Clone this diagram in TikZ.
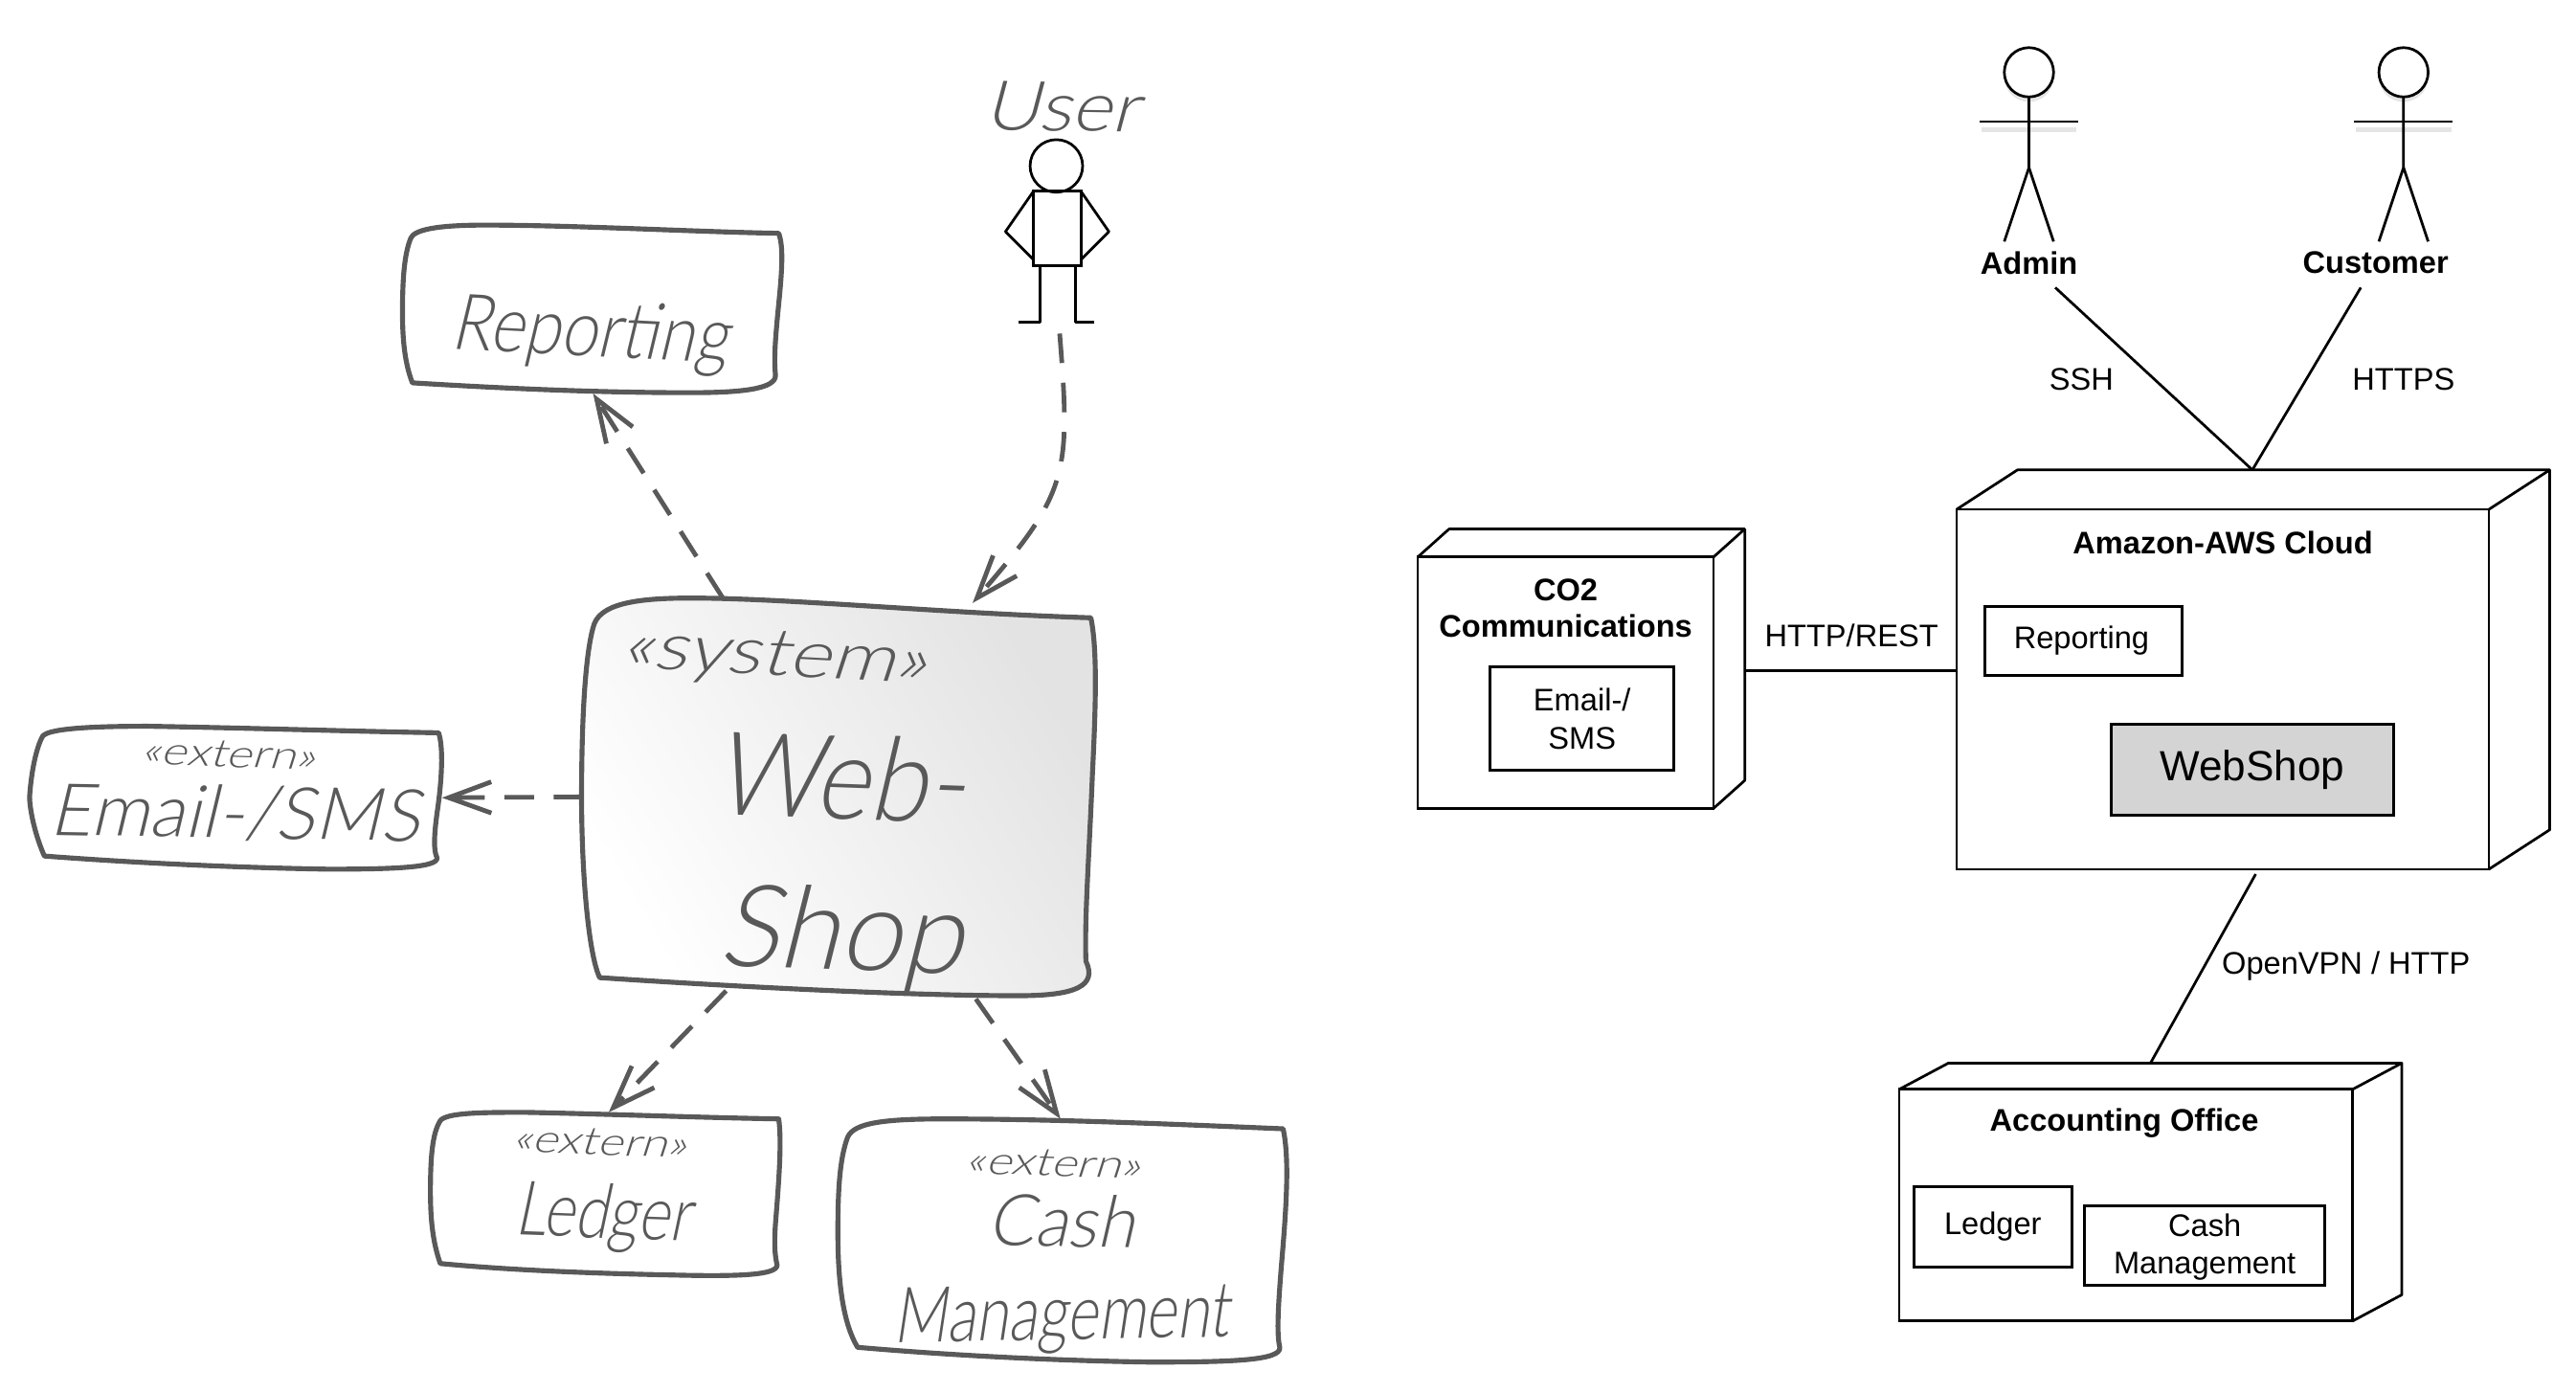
\documentclass[tikz,border=0pt]{standalone}
\usepackage{fontspec}
\usepackage{graphicx}
\usetikzlibrary{arrows.meta,calc}
\setmainfont{Liberation Sans}
\newfontfamily\hand[FakeSlant=0.22]{Lato Light}
\definecolor{sk}{HTML}{595959}
\newcommand{\hw}[3]{\resizebox*{#1pt}{#2pt}{\hand\textcolor{sk}{#3}}}
\tikzset{
  skbox/.style={draw=sk,line width=3pt,line join=round,fill=white},
  skline/.style={draw=sk,line width=2.8pt,dash pattern=on 18pt off 12pt,
    -{Straight Barb[length=26pt,width=19pt,line width=2.8pt]}},
  anchorbox/.style={inner sep=0pt,outer sep=0pt},
  stick/.style={draw=black,line width=1.6pt,line join=round},
  front/.style={draw=black,line width=1.6pt,fill=white,inner sep=0pt,outer sep=0pt},
  inner/.style={draw=black,line width=1.8pt,fill=white,inner sep=0pt,outer sep=0pt,align=center,font=\fontsize{19}{23}\selectfont},
  lbl/.style={font=\fontsize{19}{23}\selectfont,align=center,inner sep=0pt},
  ttl/.style={font=\bfseries\fontsize{19}{22}\selectfont,align=center,inner sep=0pt},
  conn/.style={draw=black,line width=1.6pt},
  shadowline/.style={draw=black!10,line width=3pt},
}
\begin{document}
\begin{tikzpicture}[x=1pt,y=-1pt]
\useasboundingbox (0,0) rectangle (1568,847.8);
% --- left: sketch boxes ---
\draw[skbox] (251,233) .. controls (246,220) and (245,205) .. (245,190) .. controls (245,170) and (246,155) .. (250,145) .. controls (252,140) and (265,137) .. (295,137) .. controls (350,137) and (420,141) .. (474,142) .. controls (477,150) and (476,165) .. (474,185) .. controls (472,205) and (471,218) .. (472,228) .. controls (473,237) and (450,239) .. (420,239) .. controls (360,239) and (300,236) .. (251,233) -- cycle;
\node[anchorbox,minimum width=231pt,minimum height=103pt] (reporting) at (360.5,188) {};
\shade[left color=white,right color=black!11,shading angle=120] (365,595) .. controls (358,580) and (354,530) .. (354,485) .. controls (354,440) and (356,400) .. (361,382) .. controls (364,368) and (385,364) .. (420,364) .. controls (480,364) and (570,373) .. (664,376) .. controls (668,395) and (667,430) .. (665,470) .. controls (663,520) and (660,560) .. (661,585) .. controls (668,600) and (655,606) .. (620,606) .. controls (550,606) and (440,600) .. (365,595) -- cycle;
\draw[draw=sk,line width=3pt,line join=round] (365,595) .. controls (358,580) and (354,530) .. (354,485) .. controls (354,440) and (356,400) .. (361,382) .. controls (364,368) and (385,364) .. (420,364) .. controls (480,364) and (570,373) .. (664,376) .. controls (668,395) and (667,430) .. (665,470) .. controls (663,520) and (660,560) .. (661,585) .. controls (668,600) and (655,606) .. (620,606) .. controls (550,606) and (440,600) .. (365,595) -- cycle;
\node[anchorbox,minimum width=312pt,minimum height=242pt] (web) at (510,485) {};
\draw[skbox] (27,521) .. controls (20,505) and (18,490) .. (18,485) .. controls (19,470) and (22,455) .. (26,448) .. controls (30,443) and (60,442) .. (90,442) .. controls (150,443) and (210,445) .. (267,446) .. controls (270,455) and (269,475) .. (266,495) .. controls (264,510) and (264,518) .. (266,522) .. controls (267,528) and (240,529) .. (200,529) .. controls (140,528) and (80,525) .. (27,521) -- cycle;
\node[anchorbox,minimum width=251pt,minimum height=87pt] (email) at (143.5,485.5) {};
\draw[skbox] (268,769) .. controls (263,755) and (262,740) .. (262,725) .. controls (262,705) and (263,690) .. (268,682) .. controls (272,677) and (295,677) .. (320,677) .. controls (370,678) and (420,680) .. (474,681) .. controls (476,695) and (474,720) .. (472,745) .. controls (471,760) and (472,765) .. (473,770) .. controls (473,776) and (450,777) .. (410,776) .. controls (360,775) and (310,773) .. (268,769) -- cycle;
\node[anchorbox,minimum width=214pt,minimum height=100pt] (ledger) at (368.5,727) {};
\draw[skbox] (522,820) .. controls (513,805) and (510,780) .. (510,750) .. controls (510,725) and (511,705) .. (516,692) .. controls (520,683) and (540,681) .. (575,681) .. controls (640,681) and (710,684) .. (781,687) .. controls (785,705) and (783,735) .. (780,770) .. controls (778,795) and (777,812) .. (779,820) .. controls (780,828) and (750,829) .. (700,829) .. controls (640,828) and (580,825) .. (522,820) -- cycle;
\node[anchorbox,minimum width=273pt,minimum height=148pt] (cash) at (646.5,755) {};
% --- left: texts ---
\node[anchorbox,rotate=-3] (treport) at (359,204) {\hw{168}{43}{Reporting}};
\node[anchorbox,rotate=-1] (tuser) at (646,65) {\hw{94}{30}{User}};
\node[anchorbox,rotate=-3] (tsys) at (471,401) {\hw{186}{34}{«system»}};
\node[anchorbox,rotate=-2] (tweb) at (511,473) {\hw{153}{52}{Web-}};
\node[anchorbox,rotate=-2] (tshop) at (512,571) {\hw{148}{63}{Shop}};
\node[anchorbox,rotate=-2] (textm) at (139,459) {\hw{106}{16}{«extern»}};
\node[anchorbox,rotate=-1] (temail) at (143,495) {\hw{225}{34}{Email-/SMS}};
\node[anchorbox,rotate=-2] (textl) at (365,695) {\hw{106}{16}{«extern»}};
\node[anchorbox,rotate=-2] (tledger) at (367,741) {\hw{107}{42}{Ledger}};
\node[anchorbox,rotate=-2] (textc) at (641,708) {\hw{106}{16}{«extern»}};
\node[anchorbox,rotate=-1] (tcash) at (646,743) {\hw{89}{32}{Cash}};
\node[anchorbox,rotate=1] (tmgmt) at (646,803) {\hw{204}{42}{Management}};
% --- left: user actor ---
\draw[stick,fill=white] (643,101) circle (16);
\node[draw=black,line width=1.7pt,inner sep=0pt,outer sep=0pt,minimum width=29pt,minimum height=45pt] (ubody) at (643.5,139) {};
\draw[stick] (ubody.north west) -- (612,141) -- (ubody.west |- 0,158);
\draw[stick] (ubody.north east) -- (675,141) -- (ubody.east |- 0,158);
\draw[stick] (633,161) -- (633,196) -- (620,196);
\draw[stick] (654.5,161) -- (654.5,196) -- (666,196);
\coordinate (uport) at (645,203);
% --- left: connectors ---
\draw[skline] ([xshift=-70pt]web.north) -- ([xshift=0.5pt]reporting.south);
\draw[skline] (uport) .. controls (652,290) and (650,300) .. ([xshift=82pt,yshift=-3pt]web.north);
\draw[skline] ([xshift=1pt,yshift=0pt]web.west) -- (email.east);
\draw[skline] ([xshift=-68pt,yshift=3pt]web.south) -- ([xshift=2pt]ledger.north);
\draw[skline] ([xshift=84pt,yshift=-2pt]web.south) -- ([xshift=-1pt]cash.north);
% --- right: actors ---
\fill[black!10] (1235,47) circle (15);
\fill[black!10] (1463,47) circle (15);
\draw[shadowline] (1206,79) -- (1264,79);
\draw[shadowline] (1434,79) -- (1492,79);
\draw[stick,fill=white] (1235,44) circle (15);
\draw[stick] (1235,59) -- (1235,102) -- (1220,147);
\draw[stick] (1235,102) -- (1250,147);
\draw[stick] (1205,74) -- (1265,74);
\draw[stick,fill=white] (1463,44) circle (15);
\draw[stick] (1463,59) -- (1463,102) -- (1448,147);
\draw[stick] (1463,102) -- (1478,147);
\draw[stick] (1433,74) -- (1493,74);
\node[ttl] (admin) at (1235,160) {Admin};
\node[ttl] (customer) at (1446,160) {Customer};
% --- right: 3D nodes ---
\node[front,minimum width=324pt,minimum height=219pt] (aws) at (1353,419.5) {};
\draw[stick] (aws.north west) -- ++(37,-24) -- ++(324,0) -- ++(0,219) -- (aws.south east);
\draw[stick] (aws.north east) -- ++(37,-24);
\node[front,minimum width=180pt,minimum height=153pt] (co2) at (953,415.5) {};
\draw[stick] (co2.north west) -- ++(19,-17) -- ++(180,0) -- ++(0,153) -- (co2.south east);
\draw[stick] (co2.north east) -- ++(19,-17);
\node[front,minimum width=276pt,minimum height=141pt] (acct) at (1294,733.5) {};
\draw[stick] (acct.north west) -- ++(30,-16) -- ++(276,0) -- ++(0,141) -- (acct.south east);
\draw[stick] (acct.north east) -- ++(30,-16);
% --- right: inner boxes ---
\node[inner,minimum width=120pt,minimum height=42pt] (ireport) at (1268,390) {};
\node[lbl] (treport2) at (1267,390) {Reporting};
\node[inner,fill=black!17,minimum width=172pt,minimum height=55pt] (iweb) at (1371,468.5) {};
\node[lbl,font=\fontsize{25.7}{30}\selectfont] (tweb2) at (1371,468.5) {WebShop};
\node[inner,minimum width=112pt,minimum height=63pt] (iemail) at (963,437.5) {Email-/\\SMS};
\node[inner,minimum width=96pt,minimum height=49pt] (iledger) at (1213,746.5) {};
\node[lbl] (tledger2) at (1213,746.5) {Ledger};
\node[inner,minimum width=146pt,minimum height=48pt] (icash) at (1342,758) {};
\node[lbl] (tcash2) at (1342,759) {Cash\\Management};
\node[ttl] (tco2) at (953,370) {CO2\\Communications};
\node[ttl] (taws) at (1353,330) {Amazon-AWS Cloud};
\node[ttl] (tacct) at (1293,683.5) {Accounting Office};
% --- right: connectors ---
\draw[conn] ([xshift=16pt,yshift=-15pt]admin.center) -- ([xshift=18pt,yshift=24pt]aws.north);
\draw[conn] ([xshift=-9pt,yshift=-15pt]customer.center) -- ([xshift=18pt,yshift=24pt]aws.north);
\draw[conn] ([xshift=19pt,yshift=7.5pt]co2.east) -- ([yshift=11.5pt]aws.west);
\draw[conn] ([xshift=20pt,yshift=-3pt]aws.south) -- ([xshift=15pt,yshift=16pt]acct.north);
\node[lbl] (lssh) at (1267,231) {SSH};
\node[lbl] (lhttps) at (1463,231) {HTTPS};
\node[lbl] (lrest) at (1127,387) {HTTP/REST};
\node[lbl] (lvpn) at (1428,588) {OpenVPN / HTTP};
\end{tikzpicture}
\end{document}
